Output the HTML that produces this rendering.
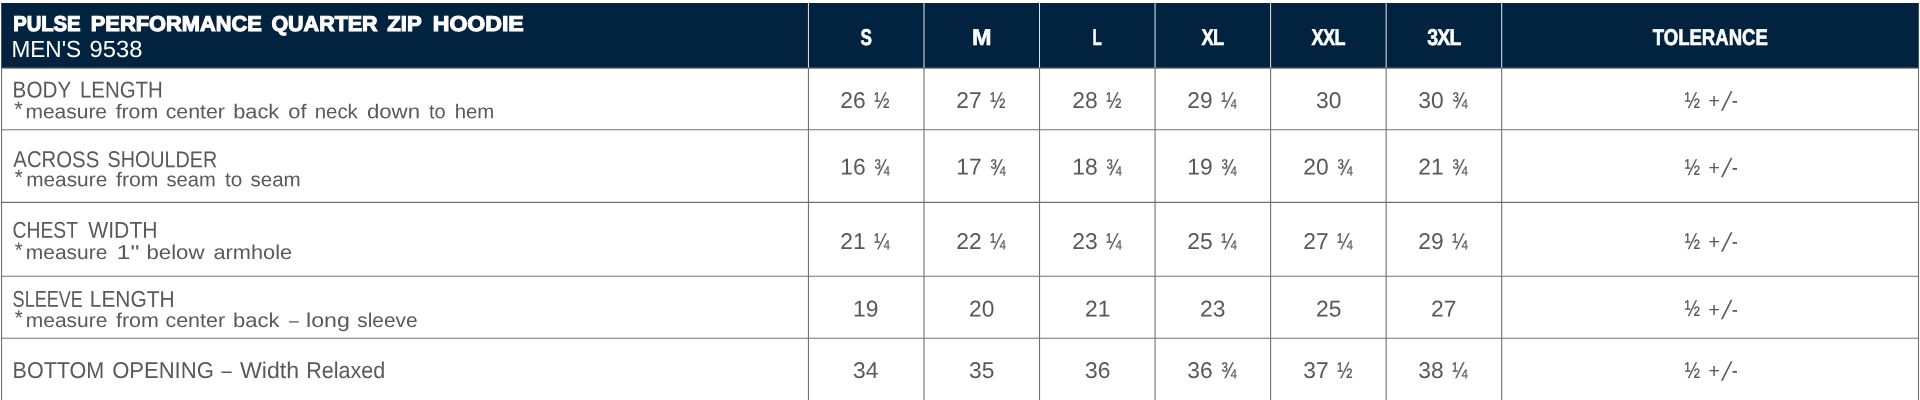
<!DOCTYPE html>
<html lang="en"><head><meta charset="utf-8"><title>Pulse Performance Quarter Zip Hoodie - Size Chart</title>
<style>
html,body{margin:0;padding:0;background:#fff}
body{width:1920px;height:400px;overflow:hidden;position:relative;font-family:"Liberation Sans",sans-serif}
svg.grid{position:absolute;left:0;top:0}
.txt{position:absolute;left:0;top:0;width:1920px;height:400px;will-change:transform}
.ln{position:absolute;left:0;width:800px;height:1em;white-space:nowrap;line-height:1em}
.ln span{position:absolute;top:0;transform-origin:0 50%}
.c{position:absolute;text-align:center;white-space:nowrap;line-height:1em;color:#58595b;font-size:22.8px}
.hc{position:absolute;text-align:center;white-space:nowrap;line-height:1em;color:#fff;font-weight:bold;font-size:22.8px}
.hc span{display:inline-block;transform-origin:50% 50%;-webkit-text-stroke:0.6px #fff;letter-spacing:-0.8px;margin-right:-0.8px}
#t1{-webkit-text-stroke:1.1px #fff}
#h6{letter-spacing:0;margin-right:0}
.f{display:inline-block;transform-origin:0 50%;transform:scaleX(0.8000);margin-left:8.80px;margin-right:-3.80px}
.f{-webkit-text-stroke:0.25px #58595b}
.f0{margin-left:0}
.pm,.sl,.mi{display:inline-block}

.pm{margin-left:7px;transform:translateY(0.8px) scale(0.88);transform-origin:100% 60%}
.sl{margin-left:2.5px;margin-right:2.5px;transform:translateY(1.6px) skewX(-15deg) scaleY(1.17);transform-origin:50% 60%}
.mi{transform:scaleX(0.8);transform-origin:0 50%}

</style></head>
<body>
<svg class="grid" width="1920" height="400" viewBox="0 0 1920 400">
<g stroke="#707173" stroke-width="1.1" fill="none">
<line x1="1.55" y1="3" x2="1.55" y2="400"/>
<line x1="1918.5" y1="3" x2="1918.5" y2="400"/>
<line x1="808.45" y1="67.75" x2="808.45" y2="400"/>
<line x1="923.99" y1="67.75" x2="923.99" y2="400"/>
<line x1="1039.53" y1="67.75" x2="1039.53" y2="400"/>
<line x1="1155.07" y1="67.75" x2="1155.07" y2="400"/>
<line x1="1270.61" y1="67.75" x2="1270.61" y2="400"/>
<line x1="1386.15" y1="67.75" x2="1386.15" y2="400"/>
<line x1="1501.69" y1="67.75" x2="1501.69" y2="400"/>
<line x1="1.55" y1="68.1" x2="1918.5" y2="68.1"/>
<line x1="1.55" y1="129.8" x2="1918.5" y2="129.8"/>
<line x1="1.55" y1="202.4" x2="1918.5" y2="202.4"/>
<line x1="1.55" y1="276.3" x2="1918.5" y2="276.3"/>
<line x1="1.55" y1="338.3" x2="1918.5" y2="338.3"/>
</g>
<rect x="1.65" y="3" width="1916.75" height="64.75" fill="#02233f"/>
<g stroke="#ffffff" stroke-width="0.9">
<line x1="808.45" y1="3" x2="808.45" y2="67.75"/>
<line x1="923.99" y1="3" x2="923.99" y2="67.75"/>
<line x1="1039.53" y1="3" x2="1039.53" y2="67.75"/>
<line x1="1155.07" y1="3" x2="1155.07" y2="67.75"/>
<line x1="1270.61" y1="3" x2="1270.61" y2="67.75"/>
<line x1="1386.15" y1="3" x2="1386.15" y2="67.75"/>
<line x1="1501.69" y1="3" x2="1501.69" y2="67.75"/>
</g></svg>
<div class="txt">
<div id="t1" class="ln" style="top:13px;font-size:21.5px;color:#fff;font-weight:bold"><span style="left:13px;transform:translate(0.14px,0.90px) scaleX(0.9414) rotate(0.03deg)">PULSE</span> <span style="left:90px;transform:translate(0.81px,0.90px) scaleX(1.0148) rotate(0.03deg)">PERFORMANCE</span> <span style="left:271px;transform:translate(0.40px,0.90px) scaleX(0.9992) rotate(0.03deg)">QUARTER</span> <span style="left:387px;transform:translate(0.31px,0.90px) scaleX(1.0274) rotate(0.03deg)">ZIP</span> <span style="left:432px;transform:translate(0.77px,0.90px) scaleX(1.0723) rotate(0.03deg)">HOODIE</span></div>
<div id="t2" class="ln" style="top:38px;font-size:23.4px;color:#fff"><span style="left:11px;transform:translate(0.38px,0.00px) scaleX(0.9669) rotate(0.03deg)">MEN'S</span> <span style="left:89px;transform:translate(0.53px,0.00px) scaleX(1.0159) rotate(0.03deg)">9538</span></div>
<div id="r1a" class="ln" style="top:78px;font-size:22.8px;color:#58595b"><span style="left:12px;transform:translate(0.62px,0.45px) scaleX(0.9075) rotate(0.03deg)">BODY</span> <span style="left:79px;transform:translate(0.89px,0.45px) scaleX(0.8973) rotate(0.03deg)">LENGTH</span></div>
<div id="r1b" class="ln" style="top:101px;font-size:20px;color:#58595b"><span style="left:14px;transform:translate(0.35px,-2.25px) scale(1.0898,1.05) rotate(0.03deg)">*</span> <span style="left:25px;transform:translate(0.41px,0.15px) scaleX(1.0491) rotate(0.03deg)">measure</span> <span style="left:115px;transform:translate(0.65px,0.15px) scaleX(1.0620) rotate(0.03deg)">from</span> <span style="left:165px;transform:translate(0.66px,0.15px) scaleX(1.0665) rotate(0.03deg)">center</span> <span style="left:233px;transform:translate(0.19px,0.15px) scaleX(1.0904) rotate(0.03deg)">back</span> <span style="left:288px;transform:translate(0.29px,0.15px) scaleX(1.0907) rotate(0.03deg)">of</span> <span style="left:314px;transform:translate(0.74px,0.15px) scaleX(1.0199) rotate(0.03deg)">neck</span> <span style="left:366px;transform:translate(0.95px,0.15px) scaleX(1.1089) rotate(0.03deg)">down</span> <span style="left:428px;transform:translate(0.94px,0.15px) scaleX(0.9981) rotate(0.03deg)">to</span> <span style="left:454px;transform:translate(0.70px,0.15px) scaleX(1.0171) rotate(0.03deg)">hem</span></div>
<div id="r2a" class="ln" style="top:148px;font-size:22.8px;color:#58595b"><span style="left:13px;transform:translate(0.31px,0.10px) scaleX(0.8925) rotate(0.03deg)">ACROSS</span> <span style="left:107px;transform:translate(0.55px,0.10px) scaleX(0.8665) rotate(0.03deg)">SHOULDER</span></div>
<div id="r2b" class="ln" style="top:169px;font-size:20px;color:#58595b"><span style="left:14px;transform:translate(0.85px,-2.10px) scale(1.0358,1.05) rotate(0.03deg)">*</span> <span style="left:26px;transform:translate(0.14px,0.30px) scaleX(1.0423) rotate(0.03deg)">measure</span> <span style="left:116px;transform:translate(0.10px,0.30px) scaleX(1.0611) rotate(0.03deg)">from</span> <span style="left:166px;transform:translate(0.45px,0.30px) scaleX(1.0082) rotate(0.03deg)">seam</span> <span style="left:225px;transform:translate(0.05px,0.30px) scaleX(1.0391) rotate(0.03deg)">to</span> <span style="left:250px;transform:translate(0.41px,0.30px) scaleX(1.0288) rotate(0.03deg)">seam</span></div>
<div id="r3a" class="ln" style="top:218px;font-size:22.8px;color:#58595b"><span style="left:12px;transform:translate(0.62px,0.65px) scaleX(0.8454) rotate(0.03deg)">CHEST</span> <span style="left:88px;transform:translate(0.27px,0.65px) scaleX(0.9280) rotate(0.03deg)">WIDTH</span></div>
<div id="r3b" class="ln" style="top:242px;font-size:20px;color:#58595b"><span style="left:14px;transform:translate(0.87px,-2.40px) scale(1.0155,1.05) rotate(0.03deg)">*</span> <span style="left:25px;transform:translate(0.83px,0.00px) scaleX(1.0481) rotate(0.03deg)">measure</span> <span style="left:116px;transform:translate(0.43px,0.00px) scaleX(1.2618) rotate(0.03deg)">1&quot;</span> <span style="left:146px;transform:translate(0.53px,0.00px) scaleX(1.1074) rotate(0.03deg)">below</span> <span style="left:213px;transform:translate(0.52px,0.00px) scaleX(1.0876) rotate(0.03deg)">armhole</span></div>
<div id="r4a" class="ln" style="top:287px;font-size:22.8px;color:#58595b"><span style="left:12px;transform:translate(0.62px,0.85px) scaleX(0.7918) rotate(0.03deg)">SLEEVE</span> <span style="left:89px;transform:translate(0.77px,0.85px) scaleX(0.9166) rotate(0.03deg)">LENGTH</span></div>
<div id="r4b" class="ln" style="top:309px;font-size:20px;color:#58595b"><span style="left:14px;transform:translate(0.76px,-1.50px) scale(1.0270,1.05) rotate(0.03deg)">*</span> <span style="left:25px;transform:translate(0.83px,0.90px) scaleX(1.0481) rotate(0.03deg)">measure</span> <span style="left:116px;transform:translate(0.01px,0.90px) scaleX(1.0692) rotate(0.03deg)">from</span> <span style="left:165px;transform:translate(0.47px,0.90px) scaleX(1.0715) rotate(0.03deg)">center</span> <span style="left:232px;transform:translate(0.90px,0.90px) scaleX(1.1014) rotate(0.03deg)">back</span> <span style="left:288px;transform:translate(0.88px,0.90px) scaleX(0.8810) rotate(0.03deg)">–</span> <span style="left:306px;transform:translate(0.01px,0.90px) scaleX(1.1587) rotate(0.03deg)">long</span> <span style="left:357px;transform:translate(0.29px,0.90px) scaleX(1.0428) rotate(0.03deg)">sleeve</span></div>
<div id="r5a" class="ln" style="top:358px;font-size:22.8px;color:#58595b"><span style="left:12px;transform:translate(0.54px,0.90px) scaleX(0.9449) rotate(0.03deg)">BOTTOM</span> <span style="left:112px;transform:translate(0.17px,0.90px) scaleX(0.9665) rotate(0.03deg)">OPENING</span> <span style="left:221px;transform:translate(0.49px,0.90px) scaleX(0.8000) rotate(0.03deg)">–</span> <span style="left:239px;transform:translate(0.98px,0.90px) scaleX(1.0123) rotate(0.03deg)">Width</span> <span style="left:306px;transform:translate(0.20px,0.90px) scaleX(0.9443) rotate(0.03deg)">Relaxed</span></div>
<div class="hc" style="left:808.45px;width:115.54px;top:26px;transform:translate(-0.38px,0.00px) rotate(0.03deg)"><span id="h0" style="transform:scaleX(0.7511)">S</span></div>
<div class="hc" style="left:923.99px;width:115.54px;top:26px;transform:translate(-0.70px,0.00px) rotate(0.03deg)"><span id="h1" style="transform:scaleX(1.0265)">M</span></div>
<div class="hc" style="left:1039.53px;width:115.54px;top:26px;transform:translate(-1.62px,0.00px) rotate(0.03deg)"><span id="h2" style="transform:scaleX(0.6670)">L</span></div>
<div class="hc" style="left:1155.07px;width:115.54px;top:26px;transform:translate(-0.20px,0.00px) rotate(0.03deg)"><span id="h3" style="transform:scaleX(0.8033)">XL</span></div>
<div class="hc" style="left:1270.61px;width:115.54px;top:26px;transform:translate(-0.71px,0.00px) rotate(0.03deg)"><span id="h4" style="transform:scaleX(0.7949)">XXL</span></div>
<div class="hc" style="left:1386.15px;width:115.54px;top:26px;transform:translate(0.29px,0.00px) rotate(0.03deg)"><span id="h5" style="transform:scaleX(0.8537)">3XL</span></div>
<div class="hc" style="left:1501.69px;width:416.81px;top:26px;transform:translate(-0.46px,0.00px) rotate(0.03deg)"><span id="h6" style="transform:scaleX(0.8135)">TOLERANCE</span></div>
<div class="c" id="v0_0" style="left:808.45px;width:115.54px;top:89px;transform:translate(-0.80px,0.00px) rotate(0.03deg)">26<span class="f">½</span></div>
<div class="c" id="v0_1" style="left:923.99px;width:115.54px;top:89px;transform:translate(-0.80px,0.00px) rotate(0.03deg)">27<span class="f">½</span></div>
<div class="c" id="v0_2" style="left:1039.53px;width:115.54px;top:89px;transform:translate(-0.80px,0.00px) rotate(0.03deg)">28<span class="f">½</span></div>
<div class="c" id="v0_3" style="left:1155.07px;width:115.54px;top:89px;transform:translate(-0.80px,0.00px) rotate(0.03deg)">29<span class="f">¼</span></div>
<div class="c" id="v0_4" style="left:1270.61px;width:115.54px;top:89px;transform:translate(0.00px,0.00px) rotate(0.03deg)">30</div>
<div class="c" id="v0_5" style="left:1386.15px;width:115.54px;top:89px;transform:translate(-0.80px,0.00px) rotate(0.03deg)">30<span class="f">¾</span></div>
<div class="c" id="v0_6" style="left:1501.69px;width:416.81px;top:89px;transform:translate(1.67px,0.00px) rotate(0.03deg)"><span class="f f0">½</span><span class="pm">+</span><span class="sl">/</span><span class="mi">-</span></div>
<div class="c" id="v1_0" style="left:808.45px;width:115.54px;top:155px;transform:translate(-0.80px,0.60px) rotate(0.03deg)">16<span class="f">¾</span></div>
<div class="c" id="v1_1" style="left:923.99px;width:115.54px;top:155px;transform:translate(-0.80px,0.60px) rotate(0.03deg)">17<span class="f">¾</span></div>
<div class="c" id="v1_2" style="left:1039.53px;width:115.54px;top:155px;transform:translate(-0.80px,0.60px) rotate(0.03deg)">18<span class="f">¾</span></div>
<div class="c" id="v1_3" style="left:1155.07px;width:115.54px;top:155px;transform:translate(-0.80px,0.60px) rotate(0.03deg)">19<span class="f">¾</span></div>
<div class="c" id="v1_4" style="left:1270.61px;width:115.54px;top:155px;transform:translate(-0.80px,0.60px) rotate(0.03deg)">20<span class="f">¾</span></div>
<div class="c" id="v1_5" style="left:1386.15px;width:115.54px;top:155px;transform:translate(-0.80px,0.60px) rotate(0.03deg)">21<span class="f">¾</span></div>
<div class="c" id="v1_6" style="left:1501.69px;width:416.81px;top:155px;transform:translate(1.67px,0.60px) rotate(0.03deg)"><span class="f f0">½</span><span class="pm">+</span><span class="sl">/</span><span class="mi">-</span></div>
<div class="c" id="v2_0" style="left:808.45px;width:115.54px;top:230px;transform:translate(-0.80px,0.00px) rotate(0.03deg)">21<span class="f">¼</span></div>
<div class="c" id="v2_1" style="left:923.99px;width:115.54px;top:230px;transform:translate(-0.80px,0.00px) rotate(0.03deg)">22<span class="f">¼</span></div>
<div class="c" id="v2_2" style="left:1039.53px;width:115.54px;top:230px;transform:translate(-0.80px,0.00px) rotate(0.03deg)">23<span class="f">¼</span></div>
<div class="c" id="v2_3" style="left:1155.07px;width:115.54px;top:230px;transform:translate(-0.80px,0.00px) rotate(0.03deg)">25<span class="f">¼</span></div>
<div class="c" id="v2_4" style="left:1270.61px;width:115.54px;top:230px;transform:translate(-0.80px,0.00px) rotate(0.03deg)">27<span class="f">¼</span></div>
<div class="c" id="v2_5" style="left:1386.15px;width:115.54px;top:230px;transform:translate(-0.80px,0.00px) rotate(0.03deg)">29<span class="f">¼</span></div>
<div class="c" id="v2_6" style="left:1501.69px;width:416.81px;top:230px;transform:translate(1.67px,0.00px) rotate(0.03deg)"><span class="f f0">½</span><span class="pm">+</span><span class="sl">/</span><span class="mi">-</span></div>
<div class="c" id="v3_0" style="left:808.45px;width:115.54px;top:297px;transform:translate(0.00px,0.50px) rotate(0.03deg)">19</div>
<div class="c" id="v3_1" style="left:923.99px;width:115.54px;top:297px;transform:translate(0.00px,0.50px) rotate(0.03deg)">20</div>
<div class="c" id="v3_2" style="left:1039.53px;width:115.54px;top:297px;transform:translate(0.00px,0.50px) rotate(0.03deg)">21</div>
<div class="c" id="v3_3" style="left:1155.07px;width:115.54px;top:297px;transform:translate(0.00px,0.50px) rotate(0.03deg)">23</div>
<div class="c" id="v3_4" style="left:1270.61px;width:115.54px;top:297px;transform:translate(0.00px,0.50px) rotate(0.03deg)">25</div>
<div class="c" id="v3_5" style="left:1386.15px;width:115.54px;top:297px;transform:translate(0.00px,0.50px) rotate(0.03deg)">27</div>
<div class="c" id="v3_6" style="left:1501.69px;width:416.81px;top:297px;transform:translate(1.67px,0.50px) rotate(0.03deg)"><span class="f f0">½</span><span class="pm">+</span><span class="sl">/</span><span class="mi">-</span></div>
<div class="c" id="v4_0" style="left:808.45px;width:115.54px;top:359px;transform:translate(0.00px,0.00px) rotate(0.03deg)">34</div>
<div class="c" id="v4_1" style="left:923.99px;width:115.54px;top:359px;transform:translate(0.00px,0.00px) rotate(0.03deg)">35</div>
<div class="c" id="v4_2" style="left:1039.53px;width:115.54px;top:359px;transform:translate(0.00px,0.00px) rotate(0.03deg)">36</div>
<div class="c" id="v4_3" style="left:1155.07px;width:115.54px;top:359px;transform:translate(-0.80px,0.00px) rotate(0.03deg)">36<span class="f">¾</span></div>
<div class="c" id="v4_4" style="left:1270.61px;width:115.54px;top:359px;transform:translate(-0.80px,0.00px) rotate(0.03deg)">37<span class="f">½</span></div>
<div class="c" id="v4_5" style="left:1386.15px;width:115.54px;top:359px;transform:translate(-0.80px,0.00px) rotate(0.03deg)">38<span class="f">¼</span></div>
<div class="c" id="v4_6" style="left:1501.69px;width:416.81px;top:359px;transform:translate(1.67px,0.00px) rotate(0.03deg)"><span class="f f0">½</span><span class="pm">+</span><span class="sl">/</span><span class="mi">-</span></div>
</div>
</body></html>
